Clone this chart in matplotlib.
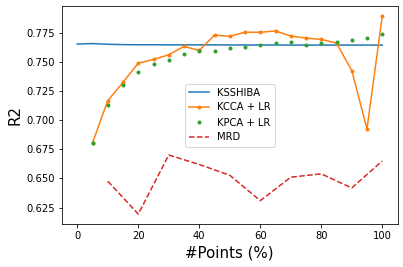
import numpy as np
import matplotlib
matplotlib.use('Agg')
import matplotlib.pyplot as plt

x_ksshiba = [0, 5, 10, 15, 20, 25, 30, 35, 40, 45, 50, 55, 60, 65, 70, 75, 80, 85, 90, 95, 100]
r2_ksshiba = [0.7652, 0.7656, 0.7650, 0.7647, 0.7646, 0.7646, 0.7645, 0.7645, 0.7645, 0.7645, 0.7644,
              0.7644, 0.7644, 0.7644, 0.7643, 0.7643, 0.7643, 0.7643, 0.7643, 0.7643, 0.7643]

x_pts = [5, 10, 15, 20, 25, 30, 35, 40, 45, 50, 55, 60, 65, 70, 75, 80, 85, 90, 95, 100]
r2_kcca = [0.6805, 0.7166, 0.7324, 0.7488, 0.7520, 0.7560, 0.7632, 0.7597, 0.7729, 0.7718,
           0.7753, 0.7753, 0.7764, 0.7721, 0.7703, 0.7692, 0.7660, 0.7425, 0.6925, 0.7893]
r2_kpca = [0.6800, 0.7132, 0.7304, 0.7416, 0.7485, 0.7517, 0.7563, 0.7595, 0.7595, 0.7621,
           0.7629, 0.7647, 0.7664, 0.7672, 0.7647, 0.7664, 0.7672, 0.7690, 0.7707, 0.7735]

x_mrd = [10, 20, 30, 40, 50, 60, 70, 80, 90, 100]
r2_mrd = [0.6477, 0.6195, 0.6701, 0.6620, 0.6528, 0.6310, 0.6511, 0.6540, 0.6419, 0.6650]

fig, ax = plt.subplots(figsize=(403 / 72, 267 / 72), dpi=72)
fig.subplots_adjust(left=62 / 403, right=397.5 / 403, top=1 - 6 / 267, bottom=1 - 224 / 267)

ax.plot(x_ksshiba, r2_ksshiba, color='C0', label='KSSHIBA')
ax.plot(x_pts, r2_kcca, color='C1', marker='.', label='KCCA + LR')
ax.plot(x_pts, r2_kpca, color='C2', marker='.', linestyle='none', label='KPCA + LR')
ax.plot(x_mrd, r2_mrd, color='C3', linestyle='--', label='MRD')

ax.set_xlabel('#Points (%)', fontsize=15)
ax.set_ylabel('R2', fontsize=15)
ax.legend(loc='center')

fig.savefig('out.png', dpi=72)
